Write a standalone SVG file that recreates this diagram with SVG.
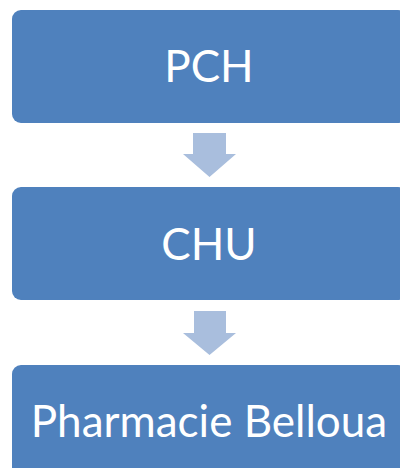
<svg xmlns="http://www.w3.org/2000/svg" width="400" height="468" viewBox="0 0 400 468">
<style>
.box{fill:#4F81BD;}
.arr{fill:#A9BEDD;}
.lbl{font-family:Lato,"Open Sans","Liberation Sans",sans-serif;font-size:44px;fill:#FFFFFF;text-anchor:middle;dominant-baseline:central;}
</style>
<rect width="400" height="468" fill="#FFFFFF"/>
<g id="connectors">
<polygon class="arr" points="193,133 226,133 226,154 236,154 209.5,177 183,154 193,154"/>
<polygon class="arr" points="194,311 226,311 226,333 236,333 209.5,355 183,333 194,333"/>
</g>
<g id="node-pch">
<rect class="box" x="12" y="10" width="395" height="113" rx="9"/>
<text class="lbl" x="209" y="65">PCH</text>
</g>
<g id="node-chu">
<rect class="box" x="12" y="187" width="395" height="113" rx="9"/>
<text class="lbl" x="209" y="243">CHU</text>
</g>
<g id="node-pharmacie">
<rect class="box" x="12" y="365" width="395" height="113" rx="9"/>
<text class="lbl" x="209" y="420">Pharmacie Belloua</text>
</g>
</svg>
